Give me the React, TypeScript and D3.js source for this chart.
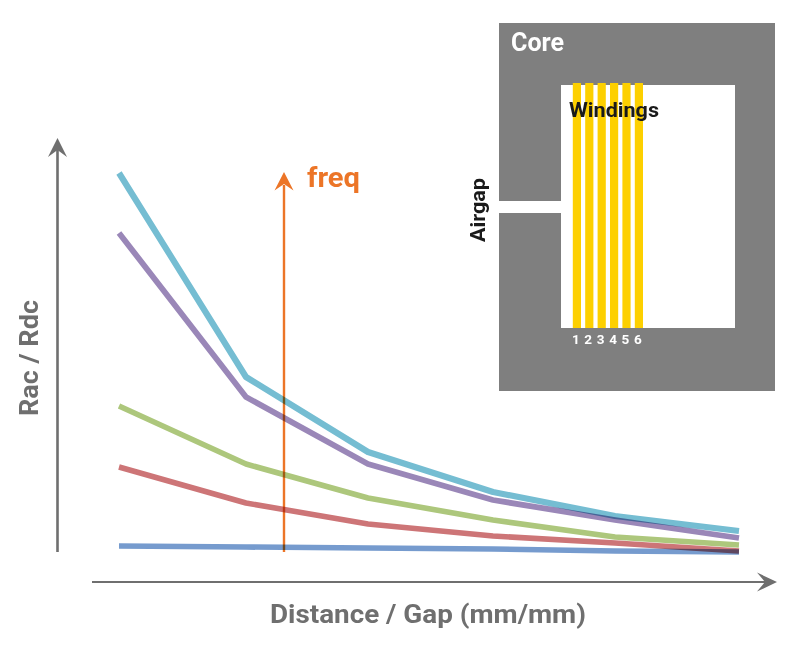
import React from "react";
import * as d3 from "d3";

const positions = [0, 127, 249, 374, 496, 620];
const cyanSeries = [379, 175, 100, 60, 36, 21];
const purpleSeries = [319, 155, 88, 52, 32, 14];
const greenSeries = [146, 88, 54, 32, 15, 7];
const redSeries = [85, 49, 28, 16, 9, 1];
const blueSeries = [6, 5, 4, 3, 1, 0];
const windingLabels = ["1", "2", "3", "4", "5", "6"];

const seriesList = [
  { values: cyanSeries, color: "#75bdd2", width: 6.2 },
  { values: purpleSeries, color: "#9a87b8", width: 5.8 },
  { values: greenSeries, color: "#adc77c", width: 5.6 },
  { values: redSeries, color: "#cd7577", width: 5.6 },
  { values: blueSeries, color: "#769bce", width: 5.6 },
];

const FONT = "Roboto, sans-serif";
const GREY = "#6f6f6f";
const ORANGE = "#ec7527";

const x = d3.scaleLinear().domain([0, 620]).range([119, 739]);
const y = d3.scaleLinear().domain([0, 400]).range([552, 152]);
const lineGen = d3
  .line<number>()
  .x((_, i) => x(positions[i]))
  .y((d) => y(d));

const windingX = d3.scaleBand<string>().domain(windingLabels).range([572.8, 647.2]);

export default function App() {
  return (
    <svg
      width={800}
      height={654}
      viewBox="0 0 800 654"
      style={{ position: "absolute", left: 0, top: 0, background: "#fff" }}
    >
      {/* Inset: core */}
      <rect x={499} y={23} width={276} height={368} fill="#7f7f7f" />
      <rect x={561} y={85} width={174} height={243} fill="#fff" />
      <rect x={499} y={201} width={62} height={12} fill="#fff" />
      {windingLabels.map((w) => (
        <rect key={w} x={windingX(w)} y={83} width={8.2} height={245} fill="#fdd000" />
      ))}
      {windingLabels.map((w) => (
        <text
          key={w}
          x={(windingX(w) as number) + 3}
          y={344}
          fontFamily={FONT}
          fontWeight={700}
          fontSize={13.5}
          fill="#fff"
          textAnchor="middle"
        >
          {w}
        </text>
      ))}
      <text x={511} y={51} fontFamily={FONT} fontWeight={700} fontSize={25} fill="#fff" textLength={53} lengthAdjust="spacingAndGlyphs">
        Core
      </text>
      <text x={569} y={117} fontFamily={FONT} fontWeight={700} fontSize={21} fill="#1a1a1a" textLength={90} lengthAdjust="spacingAndGlyphs">
        Windings
      </text>
      <text
        transform="translate(485,242) rotate(-90)"
        fontFamily={FONT}
        fontWeight={700}
        fontSize={21}
        fill="#1a1a1a"
        textLength={64}
        lengthAdjust="spacingAndGlyphs"
      >
        Airgap
      </text>

      {/* Axes */}
      <line x1={57.5} y1={552} x2={57.5} y2={150} stroke={GREY} strokeWidth={2.6} />
      <path d="M57.5,138 L67,157 L57.5,150 L48,157 Z" fill={GREY} />
      <line x1={92} y1={582} x2={765} y2={582} stroke={GREY} strokeWidth={2} />
      <path d="M777,582 L757,572.5 L765,582 L757,591.5 Z" fill={GREY} />

      {/* Frequency arrow */}
      <line x1={284} y1={552} x2={284} y2={185} stroke={ORANGE} strokeWidth={2.4} />
      <path d="M284,172 L293.5,190.5 L284,184 L274.5,190.5 Z" fill={ORANGE} />
      <text x={307} y={187} fontFamily={FONT} fontWeight={700} fontSize={27} fill={ORANGE} textLength={53} lengthAdjust="spacingAndGlyphs">
        freq
      </text>

      {/* Series */}
      {seriesList.map((s) => (
        <path
          key={s.color}
          d={lineGen(s.values) as string}
          fill="none"
          stroke={s.color}
          strokeWidth={s.width}
          strokeLinejoin="round"
          style={{ mixBlendMode: "multiply" }}
        />
      ))}

      {/* Axis titles */}
      <text
        transform="translate(38,416) rotate(-90)"
        fontFamily={FONT}
        fontWeight={700}
        fontSize={26}
        fill={GREY}
        textLength={116}
        lengthAdjust="spacingAndGlyphs"
      >
        Rac / Rdc
      </text>
      <text x={270} y={623} fontFamily={FONT} fontWeight={700} fontSize={26} fill={GREY} textLength={316} lengthAdjust="spacingAndGlyphs">
        Distance / Gap (mm/mm)
      </text>
    </svg>
  );
}
